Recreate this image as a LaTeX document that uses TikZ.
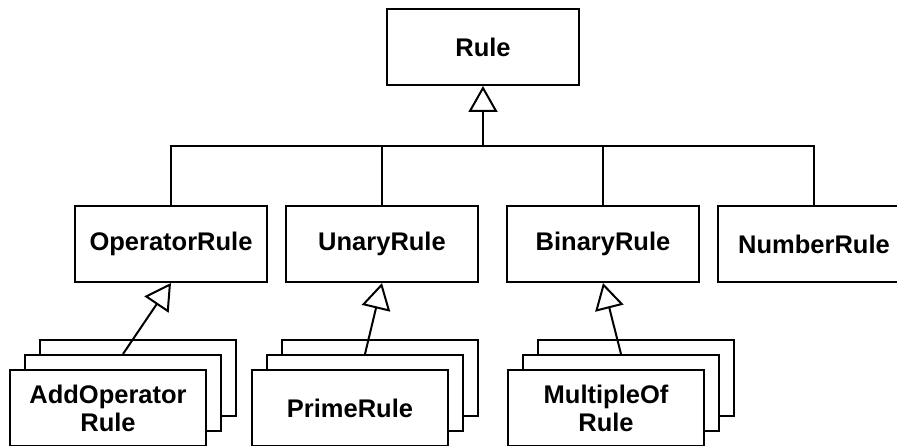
\documentclass[tikz,border=0pt]{standalone}
\usepackage{fontspec}
\setmainfont{Liberation Sans}
\usepackage{tikz}
\usetikzlibrary{positioning,arrows.meta,calc}

\begin{document}
\begin{tikzpicture}[x=1pt, y=-1pt,
      cls/.style={rectangle, draw, line width=2pt, fill=white,
                  minimum width=192pt, minimum height=76pt, inner sep=0pt,
                  align=center, font=\bfseries\fontsize{25.5}{28}\selectfont},
      subcls/.style={cls, minimum width=196pt},
      tree/.style={line width=2pt},
      inherit/.style={line width=2pt, -{Triangle[open, length=26pt, width=29pt]}},
    ]
    \clip (0,0) rectangle (897,446);

    % base class and first level
    \node[cls] (rule) at (483,47) {Rule};
    \node[cls] (op) at (171,244) {OperatorRule};
    \node[cls] (unary) at (382,244) {UnaryRule};
    \node[cls] (binary) at (603,244) {BinaryRule};
    \node[cls] (number) at (814,244) {NumberRule};
    \coordinate (bus) at (483,146);

    \draw[tree] (op.north) |- (bus) -| (number.north);
    \draw[tree] (unary.north) -- (unary.north |- bus);
    \draw[tree] (binary.north) -- (binary.north |- bus);
    \draw[inherit] (bus) -- (rule.south);

    % stacked subclasses
    \node[subcls] (addB) at (138,378) {};
    \node[subcls] (addM) at ([shift={(-15,15)}]addB) {};
    \node[subcls] (addF) at ([shift={(-15,15)}]addM) {AddOperator\\Rule};

    \node[subcls] (primeB) at (380,378) {};
    \node[subcls] (primeM) at ([shift={(-15,15)}]primeB) {};
    \node[subcls] (primeF) at ([shift={(-15,15)}]primeM) {PrimeRule};

    \node[subcls] (multB) at (636,378) {};
    \node[subcls] (multM) at ([shift={(-15,15)}]multB) {};
    \node[subcls] (multF) at ([shift={(-15,15)}]multM) {MultipleOf\\Rule};

    \draw[inherit] (addM.north) -- (op.south);
    \draw[inherit] (primeM.north) -- (unary.south);
    \draw[inherit] (multM.north) -- (binary.south);
  \end{tikzpicture}
\end{document}
